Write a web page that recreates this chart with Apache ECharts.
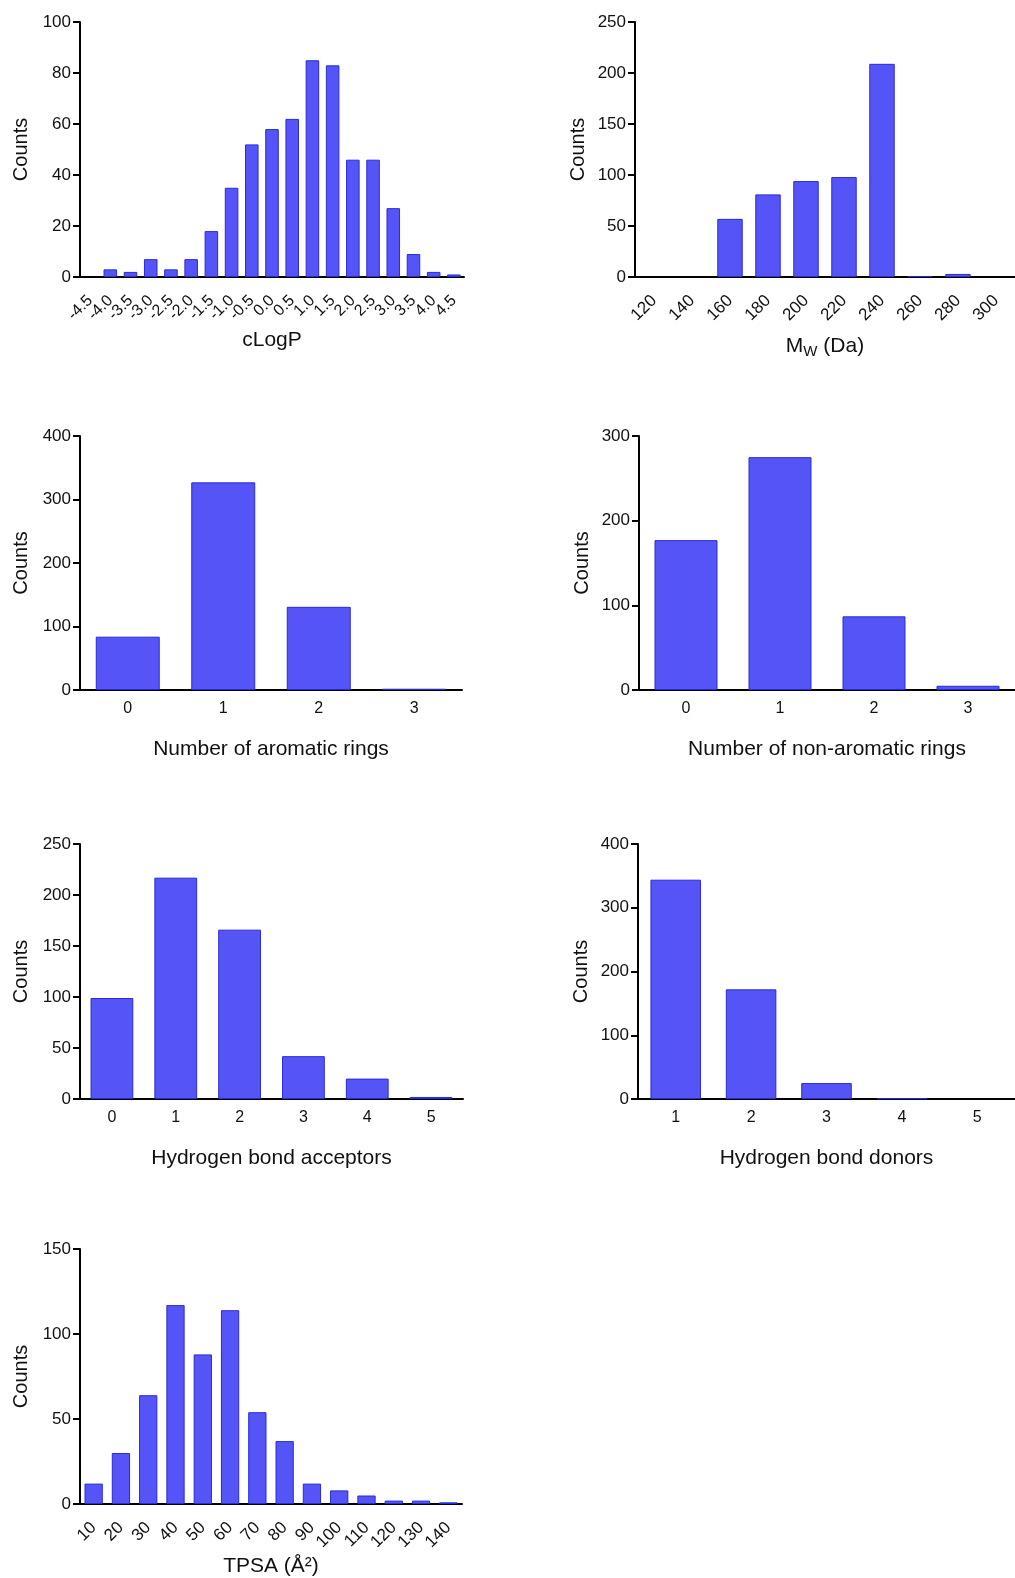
<!DOCTYPE html>
<html>
<head>
<meta charset="utf-8">
<title>Property histograms</title>
<script src="https://cdn.jsdelivr.net/npm/echarts@6/dist/echarts.min.js"></script>
<style>
  html, body { margin: 0; padding: 0; background: #fff; }
  #main { width: 1015px; height: 1578px; }
</style>
</head>
<body>
<div id="main"></div>
<script>
// 数据
var clogpCats = ['-4.5','-4.0','-3.5','-3.0','-2.5','-2.0','-1.5','-1.0','-0.5','0.0','0.5','1.0','1.5','2.0','2.5','3.0','3.5','4.0','4.5'];
var clogpCounts = [0, 3, 2, 7, 3, 7, 18, 35, 52, 58, 62, 85, 83, 46, 46, 27, 9, 2, 1];

var mwCats = ['120','140','160','180','200','220','240','260','280','300'];
var mwCounts = [0, 0, 57, 81, 94, 98, 209, 1, 3, 0];

var aroCats = ['0','1','2','3'];
var aroCounts = [84, 327, 131, 2];

var nonAroCats = ['0','1','2','3'];
var nonAroCounts = [177, 275, 87, 5];

var hbaCats = ['0','1','2','3','4','5'];
var hbaCounts = [99, 217, 166, 42, 20, 2];

var hbdCats = ['1','2','3','4','5'];
var hbdCounts = [344, 172, 25, 1, 0];

var tpsaCats = ['10','20','30','40','50','60','70','80','90','100','110','120','130','140'];
var tpsaCounts = [12, 30, 64, 117, 88, 114, 54, 37, 12, 8, 5, 2, 2, 1];

var FONT = '"Liberation Sans", Arial, sans-serif';
var chart = echarts.init(document.getElementById('main'));

// 每个小图: 数据, 位置, y轴范围, x轴标题
var panels = [
  {cats: clogpCats, vals: clogpCounts, left: 80, top: 22, width: 384, height: 255, max: 100, step: 20, rotate: 45, lsize: 16, name: 'cLogP', gap: 53},
  {cats: mwCats, vals: mwCounts, left: 635, top: 22, width: 383, height: 255, max: 250, step: 50, rotate: 45, lsize: 17, name: '{a|M}{sub|W}{a| (Da)}', gap: 57},
  {cats: aroCats, vals: aroCounts, left: 80, top: 436, width: 382, height: 254, max: 400, step: 100, rotate: 0, lsize: 16, name: 'Number of aromatic rings', gap: 49},
  {cats: nonAroCats, vals: nonAroCounts, left: 639, top: 436, width: 382, height: 254, max: 300, step: 100, rotate: 0, lsize: 16, name: 'Number of non-aromatic rings', gap: 49},
  {cats: hbaCats, vals: hbaCounts, left: 80, top: 844, width: 383, height: 255, max: 250, step: 50, rotate: 0, lsize: 16, name: 'Hydrogen bond acceptors', gap: 49},
  {cats: hbdCats, vals: hbdCounts, left: 638, top: 844, width: 382, height: 255, max: 400, step: 100, rotate: 0, lsize: 16, name: 'Hydrogen bond donors', gap: 49},
  {cats: tpsaCats, vals: tpsaCounts, left: 80, top: 1249, width: 382, height: 255, max: 150, step: 50, rotate: 45, lsize: 17, name: 'TPSA (Å²)', gap: 52}
];

var grid = [], xAxis = [], yAxis = [], series = [];
panels.forEach(function (p, i) {
  grid.push({left: p.left, top: p.top, width: p.width, height: p.height, containLabel: false});
  xAxis.push({
    type: 'category',
    gridIndex: i,
    data: p.cats,
    name: p.name,
    nameLocation: 'middle',
    nameGap: p.gap,
    nameTextStyle: {
      fontFamily: FONT, fontSize: 21, color: '#111',
      rich: {
        a: {fontFamily: FONT, fontSize: 21, color: '#111'},
        sub: {fontFamily: FONT, fontSize: 15, color: '#111', verticalAlign: 'bottom', padding: [10, 0, 0, 0]}
      }
    },
    axisLine: {lineStyle: {color: '#000', width: 2}},
    axisTick: {alignWithLabel: true, length: 8, lineStyle: {color: '#000', width: 2}},
    axisLabel: {
      interval: 0, rotate: p.rotate, margin: p.rotate ? 21 : 11,
      fontFamily: FONT, fontSize: p.lsize, color: '#111'
    }
  });
  yAxis.push({
    type: 'value',
    gridIndex: i,
    min: 0, max: p.max, interval: p.step,
    name: 'Counts',
    nameLocation: 'middle',
    nameGap: i % 2 === 0 ? 49 : 47,
    nameTextStyle: {fontFamily: FONT, fontSize: 20, color: '#111'},
    axisLine: {show: true, lineStyle: {color: '#000', width: 2}},
    axisTick: {show: true, length: 7, lineStyle: {color: '#000', width: 2}},
    splitLine: {show: false},
    axisLabel: {margin: 9, fontFamily: FONT, fontSize: 17, color: '#111'}
  });
  series.push({
    type: 'bar',
    xAxisIndex: i,
    yAxisIndex: i,
    // 0 的柱子不画边框
    data: p.vals.map(function (v) {
      return v === 0 ? {value: 0, itemStyle: {borderWidth: 0}} : v;
    }),
    barCategoryGap: '33%',
    itemStyle: {color: '#5555F7', borderColor: '#2A2AD8', borderWidth: 1},
    silent: true
  });
});

chart.setOption({
  animation: false,
  grid: grid,
  xAxis: xAxis,
  yAxis: yAxis,
  series: series
});
</script>
</body>
</html>
